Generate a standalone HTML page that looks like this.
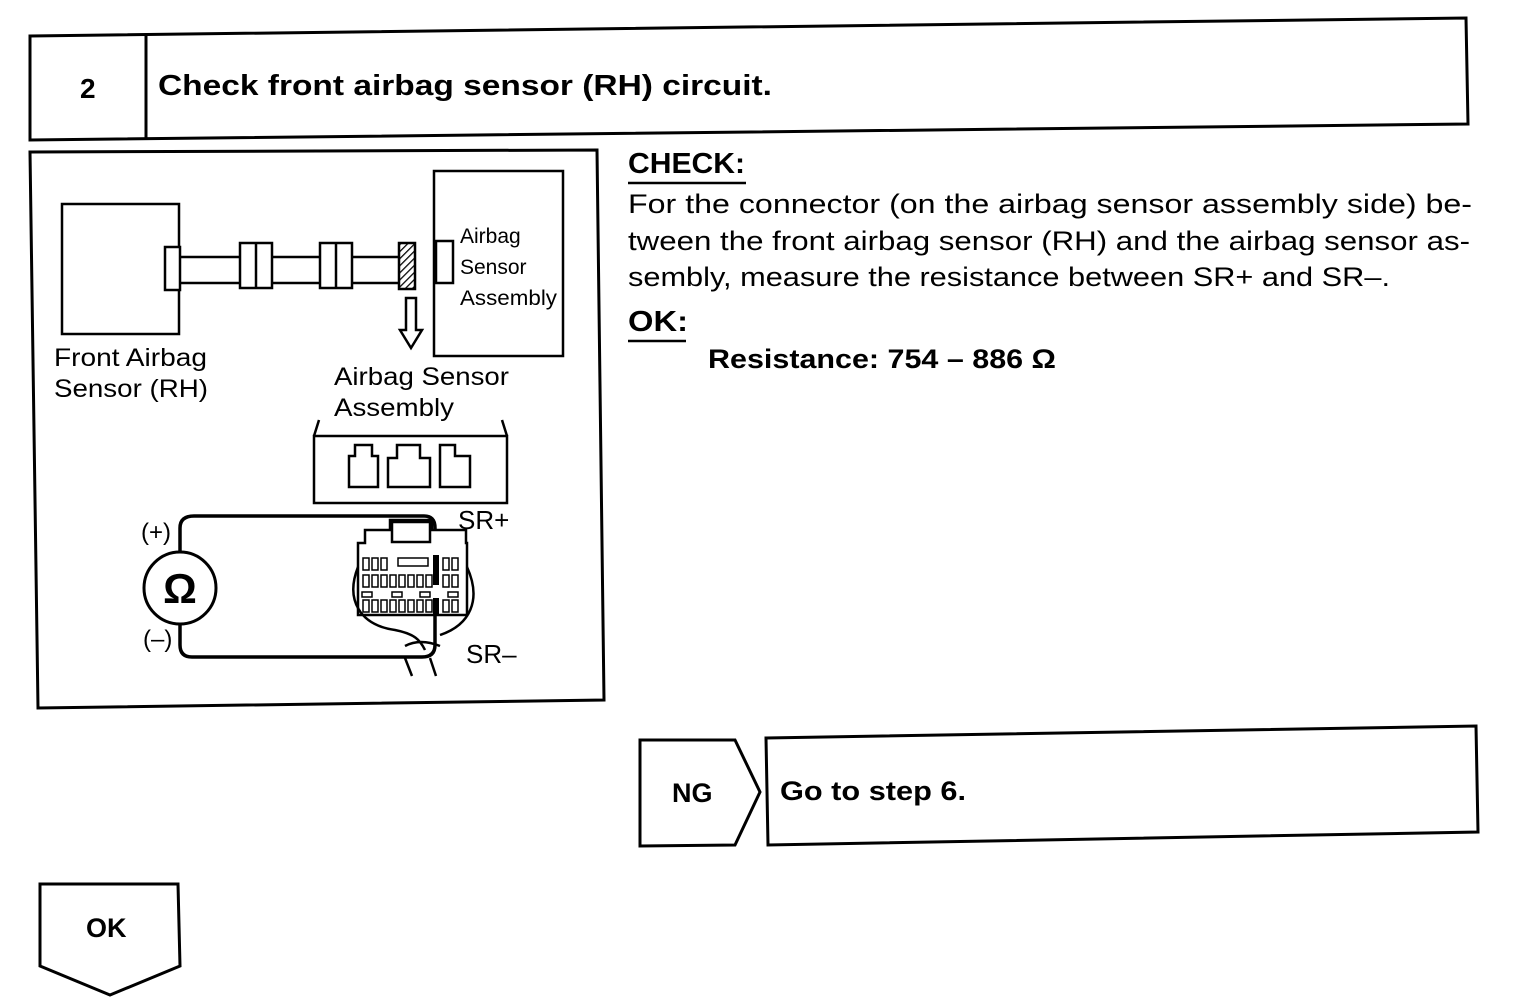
<!DOCTYPE html>
<html><head><meta charset="utf-8"><style>
html,body{margin:0;padding:0;background:#fff}
svg{display:block}
text{font-family:"Liberation Sans",Arial,sans-serif;fill:#000}
.b{font-weight:bold}
</style></head><body>
<svg width="1520" height="1006" viewBox="0 0 1520 1006" xmlns="http://www.w3.org/2000/svg">
<defs>
<pattern id="h" width="5" height="5" patternUnits="userSpaceOnUse" patternTransform="rotate(45)">
<rect width="5" height="5" fill="#fff"/><line x1="0" y1="0" x2="0" y2="5" stroke="#000" stroke-width="2.5"/>
</pattern>
</defs>
<g fill="none" stroke="#000" stroke-width="3">
<polygon points="30,36 1466,18 1468,124 30,140"/>
<line x1="146" y1="35" x2="146" y2="139"/>
<polygon points="30,152 597,150 604,700 38,708"/>
<polygon points="640,740 735,740 760,792 735,845 640,846"/>
<polygon points="766,738 1476,726 1478,832 768,845"/>
<polygon points="40,884 178,884 180,966 110,995 40,966"/>
</g>
<text x="80" y="98" class="b" font-size="28">2</text>
<text x="158" y="95" class="b" font-size="29" textLength="614" lengthAdjust="spacingAndGlyphs">Check front airbag sensor (RH) circuit.</text>

<text x="628" y="173" class="b" font-size="29" textLength="117" lengthAdjust="spacingAndGlyphs">CHECK:</text>
<line x1="628" y1="183" x2="746" y2="183" stroke="#000" stroke-width="2.5"/>
<text x="628" y="213" font-size="27" textLength="844" lengthAdjust="spacingAndGlyphs">For the connector (on the airbag sensor assembly side) be-</text>
<text x="628" y="250" font-size="27" textLength="842" lengthAdjust="spacingAndGlyphs">tween the front airbag sensor (RH) and the airbag sensor as-</text>
<text x="628" y="286" font-size="27" textLength="762" lengthAdjust="spacingAndGlyphs">sembly, measure the resistance between SR+ and SR–.</text>
<text x="628" y="331" class="b" font-size="29" textLength="60" lengthAdjust="spacingAndGlyphs">OK:</text>
<line x1="628" y1="341" x2="686" y2="341" stroke="#000" stroke-width="2.5"/>
<text x="708" y="368" class="b" font-size="27" textLength="348" lengthAdjust="spacingAndGlyphs">Resistance: 754 – 886 Ω</text>

<text x="672" y="802" class="b" font-size="27">NG</text>
<text x="780" y="800" class="b" font-size="27" textLength="186" lengthAdjust="spacingAndGlyphs">Go to step 6.</text>
<text x="86" y="937" class="b" font-size="27">OK</text>

<g fill="none" stroke="#000" stroke-width="2.5">
<rect x="62" y="204" width="117" height="130" fill="#fff"/>
<rect x="165" y="247" width="15" height="43" fill="#fff"/>
<line x1="180" y1="257" x2="398" y2="257"/>
<line x1="180" y1="283" x2="398" y2="283"/>
<rect x="240" y="243" width="32" height="45" fill="#fff"/>
<line x1="256" y1="243" x2="256" y2="288"/>
<rect x="320" y="243" width="32" height="45" fill="#fff"/>
<line x1="336" y1="243" x2="336" y2="288"/>
<rect x="399" y="243" width="16" height="46" fill="url(#h)"/>
<rect x="434" y="171" width="129" height="185" fill="#fff"/>
<rect x="436" y="241" width="17" height="42" fill="#fff"/>
<path d="M406,298 V330 H400 L411,348 L422,330 H416 V298 Z" fill="#fff"/>
<rect x="314" y="436" width="193" height="67"/>
<line x1="314" y1="436" x2="319" y2="420"/>
<line x1="507" y1="436" x2="502" y2="420"/>
<path d="M349,487 V456 H355 V445 H372 V456 H378 V487 Z"/>
<path d="M388,487 V458 H397 V445 H420 V458 H430 V487 Z"/>
<path d="M440,487 V445 H455 V456 H470 V487 Z"/>
<circle cx="180" cy="588" r="36" stroke-width="3"/>
<path d="M180,552 V528 Q180,516 194,516 H424 Q435,516 435,528 V645 Q435,657 422,657 H192 Q180,657 180,645 V624" stroke-width="3.5"/>
<path d="M358,615 V543 H365 V530 H390 V520 H432 V530 H466 V543 H467 V615 Z" fill="#fff"/>
<rect x="392" y="522" width="38" height="20" fill="none"/>
<path d="M358,567 C345,600 360,625 395,630 C415,634 420,640 425,650"/>
<path d="M467,567 C482,600 470,625 440,635"/>
<path d="M405,658 L412,676 M430,658 L436,676"/>
<path d="M405,646 Q420,638 440,646"/>
</g>
<g fill="#fff" stroke="#000" stroke-width="1.5">
<rect x="363" y="558" width="6" height="12"/><rect x="372" y="558" width="6" height="12"/><rect x="381" y="558" width="6" height="12"/>
<rect x="398" y="558" width="30" height="8"/>
<rect x="443" y="558" width="6" height="12"/><rect x="452" y="558" width="6" height="12"/>
<rect x="363" y="575" width="6" height="12"/><rect x="372" y="575" width="6" height="12"/><rect x="381" y="575" width="6" height="12"/><rect x="390" y="575" width="6" height="12"/><rect x="399" y="575" width="6" height="12"/><rect x="408" y="575" width="6" height="12"/><rect x="417" y="575" width="6" height="12"/><rect x="426" y="575" width="6" height="12"/><rect x="443" y="575" width="6" height="12"/><rect x="452" y="575" width="6" height="12"/>
<rect x="362" y="592" width="10" height="5"/><rect x="392" y="592" width="10" height="5"/><rect x="420" y="592" width="10" height="5"/><rect x="448" y="592" width="10" height="5"/>
<rect x="363" y="600" width="6" height="12"/><rect x="372" y="600" width="6" height="12"/><rect x="381" y="600" width="6" height="12"/><rect x="390" y="600" width="6" height="12"/><rect x="399" y="600" width="6" height="12"/><rect x="408" y="600" width="6" height="12"/><rect x="417" y="600" width="6" height="12"/><rect x="426" y="600" width="6" height="12"/><rect x="443" y="600" width="6" height="12"/><rect x="452" y="600" width="6" height="12"/>
</g>
<rect x="433" y="555" width="6" height="30" fill="#000"/>
<rect x="433" y="598" width="6" height="16" fill="#000"/>
<text x="180" y="603" class="b" font-size="42" text-anchor="middle">Ω</text>
<text x="141" y="540" font-size="24">(+)</text>
<text x="143" y="647" font-size="24">(–)</text>
<text x="458" y="529" font-size="26">SR+</text>
<text x="466" y="663" font-size="26">SR–</text>
<text x="460" y="243" font-size="21">Airbag</text>
<text x="460" y="274" font-size="21">Sensor</text>
<text x="460" y="305" font-size="21" textLength="97" lengthAdjust="spacingAndGlyphs">Assembly</text>
<text x="54" y="366" font-size="25" textLength="153" lengthAdjust="spacingAndGlyphs">Front Airbag</text>
<text x="54" y="397" font-size="25" textLength="154" lengthAdjust="spacingAndGlyphs">Sensor (RH)</text>
<text x="334" y="385" font-size="25" textLength="175" lengthAdjust="spacingAndGlyphs">Airbag Sensor</text>
<text x="334" y="416" font-size="25" textLength="120" lengthAdjust="spacingAndGlyphs">Assembly</text>
</svg>
</body></html>
